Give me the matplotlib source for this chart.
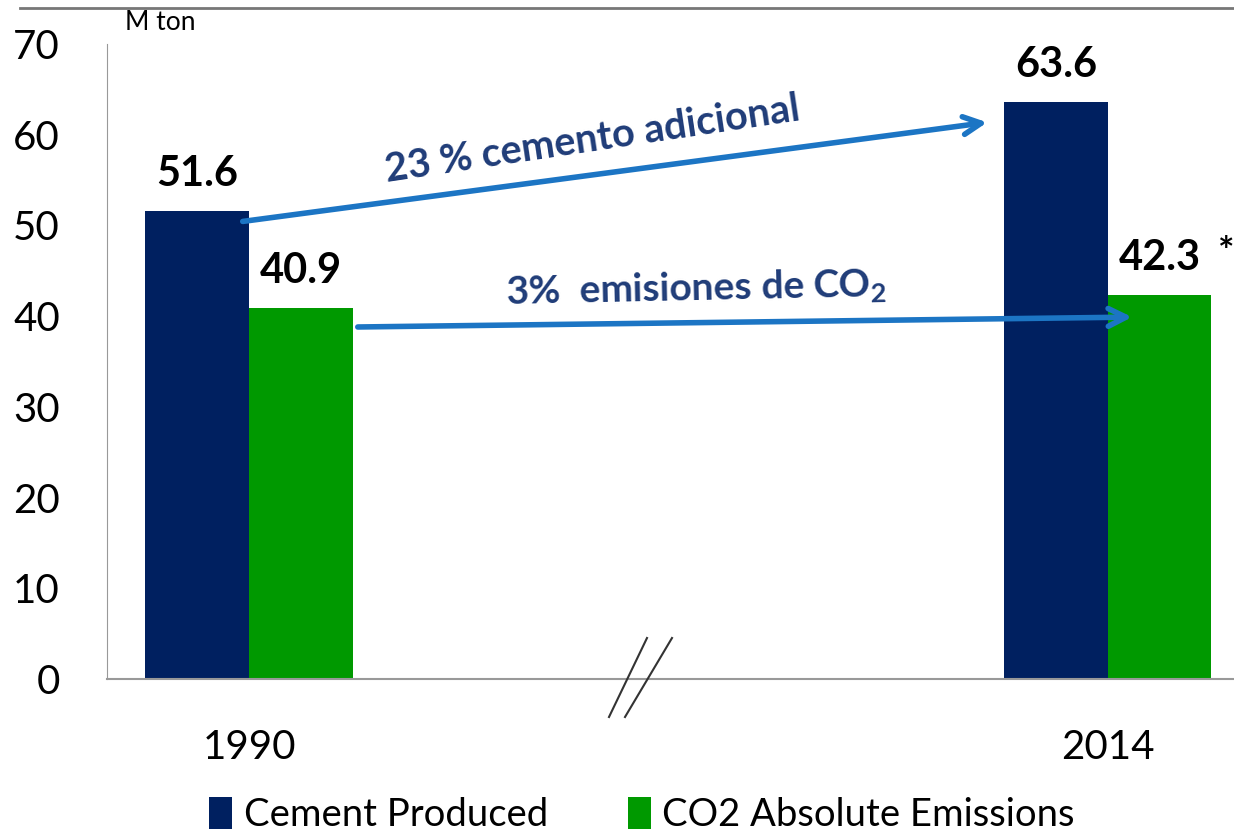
import matplotlib.pyplot as plt
from matplotlib.lines import Line2D

years = ["1990", "2014"]
cement = [51.6, 63.6]
co2 = [40.9, 42.3]
series_names = ["Cement Produced", "CO2 Absolute Emissions"]
yticks = [0, 10, 20, 30, 40, 50, 60, 70]

NAVY = "#002060"
GREEN = "#009900"
ARROW = "#1C75C4"
TXT = "#1F3C78"

plt.rcParams['font.family'] = ['Lato', 'DejaVu Sans']
plt.rcParams['mathtext.fontset'] = 'custom'
plt.rcParams['mathtext.rm'] = 'Lato:bold'
plt.rcParams['mathtext.bf'] = 'Lato:bold'

W, H = 1234, 832
fig = plt.figure(figsize=(W / 100, H / 100), dpi=100)
ax = fig.add_axes([107 / W, 1 - 679 / H, 1 - 107 / W, (679 - 44) / H])

bw = 0.1205
pos = list(range(len(years)))
b1 = ax.bar([p - bw / 2 for p in pos], cement, bw, color=NAVY, label=series_names[0])
b2 = ax.bar([p + bw / 2 for p in pos], co2, bw, color=GREEN, label=series_names[1])

ax.set_xlim(-0.1653, 1.1467)
ax.set_ylim(0, 70)
ax.set_yticks(yticks)
ax.set_xticks(pos)
ax.set_xticklabels(years)
ax.tick_params(axis='y', length=0, labelsize=29, pad=34)
ax.tick_params(axis='x', length=0, labelsize=29, pad=36)
for s in ['top', 'right']:
    ax.spines[s].set_visible(False)
ax.spines['left'].set_color('#999999')
ax.spines['bottom'].set_color('#999999')
ax.spines['bottom'].set_linewidth(1.5)

for bars, vals in [(b1, cement), (b2, co2)]:
    for r, v in zip(bars, vals):
        ax.text(r.get_x() + r.get_width() / 2, v + 2.0, f"{v}", ha='center', va='bottom',
                fontsize=30, fontweight='bold', color='black')
ax.text(1.0 + 0.1275, co2[1] + 2.8, "*", ha='left', va='bottom', fontsize=28,
        fontweight='bold', clip_on=False)

# arrows
ax.annotate("", xy=(0.8626, 61.4), xytext=(-0.0105, 50.4),
            arrowprops=dict(arrowstyle='->', color=ARROW, lw=4, mutation_scale=32))
ax.annotate("", xy=(1.0314, 39.9), xytext=(0.1234, 38.8),
            arrowprops=dict(arrowstyle='->', color=ARROW, lw=4, mutation_scale=32))
ax.text(0.3993, 59.5, "23 % cemento adicional", ha='center', va='center', rotation=8.5,
        fontsize=28.5, fontweight='bold', color=TXT)
ax.text(0.5204, 43.0, "3%  emisiones de CO$_\\mathbf{2}$", ha='center', va='center', rotation=1.2,
        fontsize=28, fontweight='bold', color=TXT)

# axis break marks
fig.add_artist(Line2D([609 / W, 647 / W], [1 - 717 / H, 1 - 638 / H], color='#333333', lw=1.5))
fig.add_artist(Line2D([625 / W, 672 / W], [1 - 717 / H, 1 - 638 / H], color='#333333', lw=1.5))

# top rule and unit
fig.add_artist(Line2D([20 / W, 1.0], [1 - 8 / H, 1 - 8 / H], color='#777777', lw=2))
fig.text(125 / W, 1 - 22 / H, "M ton", ha='left', va='center', fontsize=19)

fig.legend(handles=[b1, b2], labels=series_names, loc='center', bbox_to_anchor=(642 / W, 1 - 815 / H),
           ncol=2, frameon=False, fontsize=27.5, handlelength=0.6, handleheight=0.9,
           handletextpad=0.3, columnspacing=2.1)

fig.savefig("out.png", dpi=100)
